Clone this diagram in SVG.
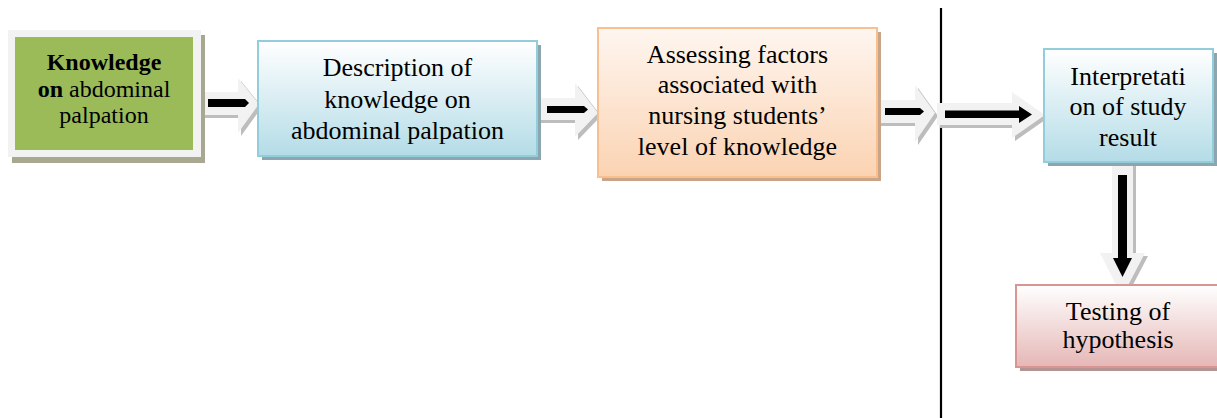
<svg xmlns="http://www.w3.org/2000/svg" width="1217" height="418" viewBox="0 0 1217 418">
<defs>
<linearGradient id="gBlue" x1="0" y1="0" x2="0" y2="1"><stop offset="0" stop-color="#FFFFFF"/><stop offset="1" stop-color="#B4DCE7"/></linearGradient>
<linearGradient id="gOrange" x1="0" y1="0" x2="0" y2="1"><stop offset="0" stop-color="#FEF6F0"/><stop offset="1" stop-color="#FBD3B2"/></linearGradient>
<linearGradient id="gPink" x1="0" y1="0" x2="0" y2="1"><stop offset="0" stop-color="#FFFFFF"/><stop offset="1" stop-color="#E5B7B6"/></linearGradient>
</defs>
<style>
text{font-family:"Liberation Serif","Times New Roman",serif;fill:#000;text-anchor:middle}
.t{font-size:26px}
.g{font-size:24px}
.blk{fill:#F2F2F2}
.sh{fill:#BDBDBD}
.bar{fill:#000}
</style>
<line x1="941" y1="8" x2="941" y2="418" stroke="#000" stroke-width="2.2"/>
<g id="connectors">
<g id="a1">
<polygon class="sh" points="204,95 241,95 241,81 262,107 241,136 241,118 204,118"/>
<polygon class="blk" points="201,92 238,92 238,78 259,104 238,133 238,115 201,115"/>
<polygon class="bar" points="208,99 245,99 249,103 245,107 208,107"/>
</g>
<g id="a2">
<polygon class="sh" points="540,101 578,101 578,86 601,116 578,140 578,123 540,123"/>
<polygon class="blk" points="537,98 575,98 575,83 598,113 575,137 575,120 537,120"/>
<polygon class="bar" points="547,106 584,106 588,109.5 584,113 547,113"/>
</g>
<g id="a3">
<polygon class="sh" points="880,103 918,103 918,88 938,116 918,145 918,126 880,126"/>
<polygon class="blk" points="877,100 915,100 915,85 935,113 915,142 915,123 877,123"/>
<polygon class="bar" points="885,108 920,108 924,111.5 920,115 885,115"/>
</g>
<g id="a4">
<polygon class="sh" points="940,106 1015,106 1015,95 1048,118 1015,141 1015,128 940,128"/>
<polygon class="blk" points="937,103 1012,103 1012,92 1045,115 1012,138 1012,125 937,125"/>
<polygon class="bar" points="945,110.5 1019,110.5 1019,106 1032,114.5 1019,123 1019,118 945,118"/>
</g>
<g id="a5">
<polygon class="sh" points="1115,166 1136,166 1136,256 1148,256 1125,300 1103,256 1115,256"/>
<polygon class="blk" points="1112,163 1133,163 1133,253 1145,253 1122,297 1100,253 1112,253"/>
<polygon class="bar" points="1118,175 1127,175 1127,258 1132,258 1122.5,277 1113,258 1118,258"/>
</g>
</g>
<g id="n1">
<rect x="12" y="35" width="193" height="128" fill="#A8A890"/>
<rect x="8" y="30" width="193" height="127" fill="#F2F2F2"/>
<rect x="15" y="37" width="178" height="113" fill="#9BBB59"/>
<text class="g" x="104" y="70" font-weight="bold">Knowledge</text>
<text class="g" x="104" y="97"><tspan font-weight="bold">on</tspan> abdominal</text>
<text class="g" x="104" y="123">palpation</text>
</g>
<g id="n2">
<rect x="262" y="45" width="279" height="115" fill="#8BA6AE"/>
<rect x="258" y="41" width="279" height="115" fill="url(#gBlue)" stroke="#92CDDC" stroke-width="2"/>
<text class="t" x="397.5" y="75.5">Description of</text>
<text class="t" x="397.5" y="107.5">knowledge on</text>
<text class="t" x="397.5" y="138.5">abdominal palpation</text>
</g>
<g id="n3">
<rect x="602" y="32" width="279" height="149" fill="#C8A488"/>
<rect x="598" y="28" width="279" height="149" fill="url(#gOrange)" stroke="#FABF8F" stroke-width="2"/>
<text class="t" x="737.5" y="63">Assessing factors</text>
<text class="t" x="737.5" y="93">associated with</text>
<text class="t" x="737.5" y="124">nursing students’</text>
<text class="t" x="737.5" y="155">level of knowledge</text>
</g>
<g id="n4">
<rect x="1048" y="53" width="169" height="113" fill="#8BA6AE"/>
<rect x="1044" y="49" width="169" height="113" fill="url(#gBlue)" stroke="#92CDDC" stroke-width="2"/>
<text class="t" x="1128" y="84.5">Interpretati</text>
<text class="t" x="1128" y="115">on of study</text>
<text class="t" x="1128" y="145.5">result</text>
</g>
<g id="n5">
<rect x="1020" y="289" width="210" height="82" fill="#B39494"/>
<rect x="1016" y="285" width="210" height="82" fill="url(#gPink)" stroke="#D99594" stroke-width="2"/>
<text class="t" x="1118" y="319.5">Testing of</text>
<text class="t" x="1118" y="348">hypothesis</text>
</g>
</svg>
